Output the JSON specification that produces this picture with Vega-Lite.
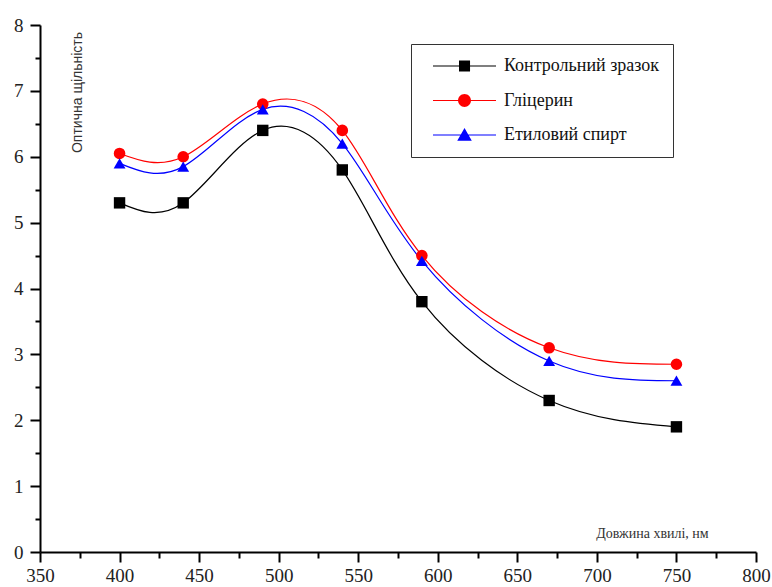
{
  "$schema": "https://vega.github.io/schema/vega-lite/v6.json",
  "width": 716,
  "height": 527,
  "autosize": "none",
  "padding": {"left": 40, "top": 25, "right": 16, "bottom": 35},
  "background": "white",
  "config": {
    "view": {"stroke": null},
    "axis": {
      "grid": false,
      "domainColor": "black",
      "domainWidth": 2,
      "tickColor": "black",
      "tickWidth": 2,
      "labelFont": "'Liberation Serif', 'Times New Roman', 'DejaVu Serif', serif",
      "labelFontSize": 19,
      "labelColor": "#222",
      "labelOverlap": false,
      "labelFlush": false
    }
  },
  "data": {
    "values": [
      {"series": "Контрольний зразок", "x": 400, "y": 5.3},
      {"series": "Контрольний зразок", "x": 440, "y": 5.3},
      {"series": "Контрольний зразок", "x": 490, "y": 6.4},
      {"series": "Контрольний зразок", "x": 540, "y": 5.8},
      {"series": "Контрольний зразок", "x": 590, "y": 3.8},
      {"series": "Контрольний зразок", "x": 670, "y": 2.3},
      {"series": "Контрольний зразок", "x": 750, "y": 1.9},
      {"series": "Гліцерин", "x": 400, "y": 6.05},
      {"series": "Гліцерин", "x": 440, "y": 6.0},
      {"series": "Гліцерин", "x": 490, "y": 6.8},
      {"series": "Гліцерин", "x": 540, "y": 6.4},
      {"series": "Гліцерин", "x": 590, "y": 4.5},
      {"series": "Гліцерин", "x": 670, "y": 3.1},
      {"series": "Гліцерин", "x": 750, "y": 2.85},
      {"series": "Етиловий спирт", "x": 400, "y": 5.9},
      {"series": "Етиловий спирт", "x": 440, "y": 5.85},
      {"series": "Етиловий спирт", "x": 490, "y": 6.72},
      {"series": "Етиловий спирт", "x": 540, "y": 6.2},
      {"series": "Етиловий спирт", "x": 590, "y": 4.42},
      {"series": "Етиловий спирт", "x": 670, "y": 2.9},
      {"series": "Етиловий спирт", "x": 750, "y": 2.6}
    ]
  },
  "encoding": {
    "x": {
      "field": "x", "type": "quantitative",
      "scale": {"domain": [350, 800], "nice": false},
      "axis": {
        "values": [350,375,400,425,450,475,500,525,550,575,600,625,650,675,700,725,750,775,800],
        "labelExpr": "datum.value % 50 === 0 ? format(datum.value, 'd') : ''",
        "tickSize": {"condition": {"test": "datum.value % 50 === 0", "value": 10}, "value": 6},
        "labelPadding": 4,
        "title": "Довжина хвилі, нм",
        "titleFont": "'Liberation Serif', 'Times New Roman', 'DejaVu Serif', serif",
        "titleFontSize": 14,
        "titleFontWeight": "normal",
        "titleColor": "#333",
        "titleAnchor": null,
        "titleX": 612,
        "titleY": -19,
        "titleAlign": "center",
        "titleBaseline": "middle"
      }
    },
    "y": {
      "field": "y", "type": "quantitative",
      "scale": {"domain": [0, 8], "nice": false},
      "axis": {
        "values": [0,0.5,1,1.5,2,2.5,3,3.5,4,4.5,5,5.5,6,6.5,7,7.5,8],
        "labelExpr": "datum.value % 1 === 0 ? format(datum.value, 'd') : ''",
        "tickSize": {"condition": {"test": "datum.value % 1 === 0", "value": 10}, "value": 5},
        "labelPadding": 7,
        "title": "Оптична щільність",
        "titleFont": "'Liberation Sans', Arial, sans-serif",
        "titleFontSize": 14,
        "titleFontWeight": "normal",
        "titleColor": "#333",
        "titleAngle": -90,
        "titleAnchor": null,
        "titleX": 37,
        "titleY": 67,
        "titleAlign": "center",
        "titleBaseline": "middle"
      }
    }
  },
  "resolve": {"scale": {"color": "independent", "shape": "independent"}},
  "layer": [
    {
      "mark": {"type": "line", "interpolate": "natural", "strokeWidth": 1.2},
      "encoding": {
        "color": {
          "field": "series", "type": "nominal",
          "scale": {"domain": ["Контрольний зразок", "Гліцерин", "Етиловий спирт"], "range": ["#000000", "#ff0000", "#0000ff"]},
          "legend": null
        }
      }
    },
    {
      "mark": {"type": "point", "filled": true, "opacity": 1},
      "encoding": {
        "color": {
          "field": "series", "type": "nominal",
          "scale": {"domain": ["Контрольний зразок", "Гліцерин", "Етиловий спирт"], "range": ["#000000", "#ff0000", "#0000ff"]},
          "legend": null
        },
        "shape": {
          "field": "series", "type": "nominal",
          "scale": {"domain": ["Контрольний зразок", "Гліцерин", "Етиловий спирт"], "range": ["square", "circle", "triangle-up"]},
          "legend": null
        },
        "size": {
          "field": "series", "type": "nominal",
          "scale": {"domain": ["Контрольний зразок", "Гліцерин", "Етиловий спирт"], "range": [130, 140, 240]},
          "legend": null
        }
      }
    },
    {
      "mark": {"type": "point", "filled": true, "opacity": 0},
      "encoding": {
        "color": {
          "field": "series", "type": "nominal",
          "scale": {"domain": ["Контрольний зразок", "Гліцерин", "Етиловий спирт"], "range": ["#000000", "#ff0000", "#0000ff"]},
          "legend": {
            "title": null,
            "orient": "none",
            "legendX": 371,
            "legendY": 19,
            "strokeColor": "#333",
            "fillColor": "white",
            "padding": 13,
            "rowPadding": 16.5,
            "symbolSize": 256,
            "symbolOpacity": 1,
            "symbolStrokeWidth": 0,
            "labelOffset": 62,
            "labelFont": "'Liberation Serif', 'Times New Roman', 'DejaVu Serif', serif",
            "labelFontSize": 18,
            "labelColor": "#111",
            "labelLimit": 300
          }
        },
        "shape": {
          "field": "series", "type": "nominal",
          "scale": {
            "domain": ["Контрольний зразок", "Гліцерин", "Етиловий спирт"],
            "range": [
              "M0,-0.07H7.875V0.07H0ZM3.25,-0.69H4.63V0.69H3.25Z",
              "M0,-0.07H7.875V0.07H0ZM4.75,0A0.81,0.81,0,1,1,3.13,0A0.81,0.81,0,1,1,4.75,0Z",
              "M0,-0.07H7.875V0.07H0ZM3.94,-0.88L4.85,0.72H3.03Z"
            ]
          },
          "legend": {
            "title": null,
            "orient": "none",
            "legendX": 371,
            "legendY": 19,
            "strokeColor": "#333",
            "fillColor": "white",
            "padding": 13,
            "rowPadding": 16.5,
            "symbolSize": 256,
            "symbolOpacity": 1,
            "symbolStrokeWidth": 0,
            "labelOffset": 62,
            "labelFont": "'Liberation Serif', 'Times New Roman', 'DejaVu Serif', serif",
            "labelFontSize": 18,
            "labelColor": "#111",
            "labelLimit": 300
          }
        }
      }
    }
  ]
}
